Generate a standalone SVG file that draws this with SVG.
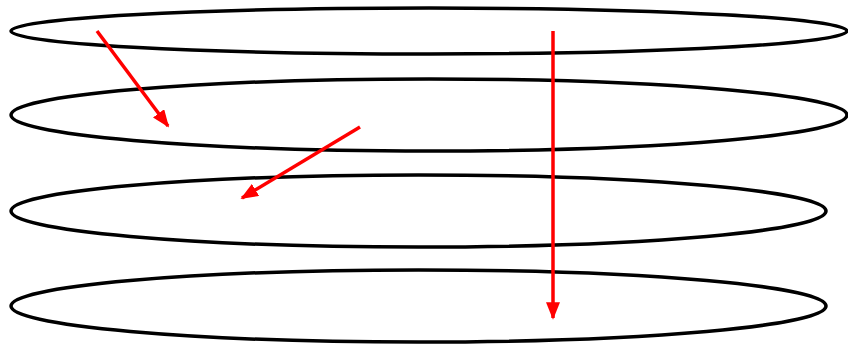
<svg xmlns="http://www.w3.org/2000/svg" width="848" height="347" viewBox="0 0 848 347">
<style>
.layer{fill:none;stroke:#000;stroke-width:3.5}
.arr{fill:none;stroke:#f00;stroke-width:3.5;marker-end:url(#ah)}
</style>
<defs>
<marker id="ah" markerWidth="5" markerHeight="4" refX="4.5" refY="2" orient="auto" markerUnits="strokeWidth">
<path d="M0,0 L5,2 L0,4 Z" fill="#f00"/>
</marker>
</defs>
<rect width="848" height="347" fill="#fff"/>
<g id="layer1"><ellipse class="layer" cx="429" cy="31" rx="418" ry="23"/></g>
<g id="layer2"><ellipse class="layer" cx="429" cy="115" rx="418" ry="36"/></g>
<g id="layer3"><ellipse class="layer" cx="418.5" cy="211" rx="407.5" ry="36"/></g>
<g id="layer4"><ellipse class="layer" cx="418.5" cy="306" rx="407.5" ry="36"/></g>
<g id="connectors">
<line class="arr" x1="97" y1="31" x2="168" y2="126"/>
<line class="arr" x1="360" y1="127" x2="242" y2="198"/>
<line class="arr" x1="553" y1="31" x2="553" y2="318"/>
</g>
</svg>
